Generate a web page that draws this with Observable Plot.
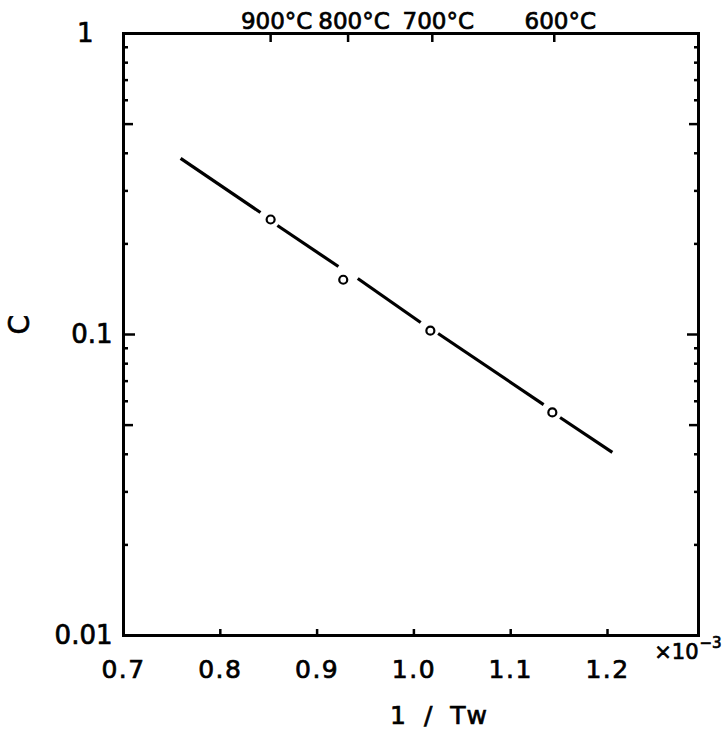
<!DOCTYPE html>
<html>
<head>
<meta charset="utf-8">
<script src="https://cdn.jsdelivr.net/npm/d3@7"></script>
<script src="https://cdn.jsdelivr.net/npm/@observablehq/plot@0.6"></script>
<style>
  body { margin: 0; background: #fff; }
  .lab text { stroke: #000; stroke-width: 0.7px; }
  .wide text { letter-spacing: 1.5px; stroke: #000; stroke-width: 0.7px; }
  .xlab text { letter-spacing: 5px; stroke: #000; stroke-width: 0.7px; }
</style>
</head>
<body>
<div id="chart"></div>
<script>
// x axis: 1/Tw (x10^-3)
const xTicks = [0.7, 0.8, 0.9, 1.0, 1.1, 1.2];
const xTickLabels = ["0.7", "0.8", "0.9", "1.0", "1.1", "1.2"];
// y axis: C (log)
const yDecades = [0.01, 0.1, 1];
const yDecadeLabels = ["0.01", "0.1", "1"];
const yFives = [0.05, 0.5];
const yMinor = [0.02, 0.03, 0.04, 0.06, 0.07, 0.08, 0.09, 0.2, 0.3, 0.4, 0.6, 0.7, 0.8, 0.9];
// top temperature scale
const tempX = [0.852, 0.932, 1.019, 1.145];
const tempLabels = ["900°C", "800°C", "700°C", "600°C"];
// measured points
const pointX = [0.852, 0.927, 1.017, 1.143];
const pointC = [0.241, 0.152, 0.103, 0.0551];
// fitted line, drawn as pieces broken around the points
const segX1 = [0.759, 0.859, 0.942, 1.025, 1.151];
const segC1 = [0.3845, 0.2302, 0.1535, 0.1008, 0.0530];
const segX2 = [0.8415, 0.922, 1.007, 1.134, 1.205];
const segC2 = [0.2542, 0.1682, 0.1096, 0.0585, 0.0406];

const segs = segX1.map((x1, i) => ({x1, c1: segC1[i], x2: segX2[i], c2: segC2[i]}));
const points = pointX.map((x, i) => ({x, c: pointC[i]}));

const font = "DejaVu Sans, sans-serif";

const chart = Plot.plot({
  width: 724,
  height: 745,
  marginLeft: 123,
  marginRight: 26,
  marginTop: 33,
  marginBottom: 110,
  style: {fontFamily: font, background: "#fff", color: "#000"},
  x: {domain: [0.7, 1.294]},
  y: {type: "log", domain: [0.01, 1]},
  marks: [
    Plot.frame({stroke: "#000", strokeWidth: 3}),
    // bottom ticks & labels
    Plot.axisX(xTicks.slice(1), {anchor: "bottom", tickSize: -6, strokeWidth: 2.5, tickFormat: () => "", label: null}),
    Plot.axisX(xTicks, {anchor: "bottom", tickSize: 0, tickPadding: 25, fontSize: 25, className: "wide",
      tickFormat: d => xTickLabels[xTicks.indexOf(d)], label: null}),
    // top temperature ticks & labels
    Plot.axisX(tempX, {anchor: "top", tickSize: -8, strokeWidth: 2.5, tickFormat: () => "", label: null}),
    Plot.axisX(tempX, {anchor: "top", tickSize: 0, tickPadding: 5, dx: 6, fontSize: 23, className: "lab",
      tickFormat: d => tempLabels[tempX.indexOf(d)], label: null}),
    // left ticks (inward)
    Plot.axisY(yDecades, {anchor: "left", tickSize: -12, strokeWidth: 2.5, tickFormat: () => "", label: null}),
    Plot.axisY(yFives, {anchor: "left", tickSize: -10, strokeWidth: 2.5, tickFormat: () => "", label: null}),
    Plot.axisY(yMinor, {anchor: "left", tickSize: -5, strokeWidth: 2.5, tickFormat: () => "", label: null}),
    // right ticks (inward)
    Plot.axisY(yDecades, {anchor: "right", tickSize: -12, strokeWidth: 2.5, tickFormat: () => "", label: null}),
    Plot.axisY(yFives, {anchor: "right", tickSize: -10, strokeWidth: 2.5, tickFormat: () => "", label: null}),
    Plot.axisY(yMinor, {anchor: "right", tickSize: -5, strokeWidth: 2.5, tickFormat: () => "", label: null}),
    // y labels
    Plot.axisY(yDecades.slice(0, 2), {anchor: "left", tickSize: 0, tickPadding: 11, fontSize: 26, className: "lab",
      tickFormat: d => yDecadeLabels[yDecades.indexOf(d)], label: null}),
    Plot.axisY(yDecades.slice(2), {anchor: "left", tickSize: 0, tickPadding: 30, fontSize: 26, className: "lab",
      tickFormat: d => yDecadeLabels[yDecades.indexOf(d)], label: null}),
    // line pieces
    Plot.link(segs, {x1: "x1", y1: "c1", x2: "x2", y2: "c2", stroke: "#000", strokeWidth: 3.2, strokeLinecap: "butt"}),
    // points
    Plot.dot(points, {x: "x", y: "c", r: 4, fill: "#fff", stroke: "#000", strokeWidth: 2.2}),
    // axis titles
    Plot.text(["C"], {frameAnchor: "left", dx: -103, rotate: -90, fontSize: 28, className: "lab"}),
    Plot.text(["1 / Tw"], {frameAnchor: "bottom", dx: 30, dy: 88, fontSize: 25, className: "xlab"}),
    Plot.text(["×10"], {frameAnchor: "bottom-right", dx: 0, dy: 23, textAnchor: "end", fontSize: 21, className: "lab"}),
    Plot.text(["−3"], {frameAnchor: "bottom-right", dx: 1, dy: 12, textAnchor: "start", fontSize: 15, className: "lab"})
  ]
});

document.getElementById("chart").appendChild(chart);
</script>
</body>
</html>
